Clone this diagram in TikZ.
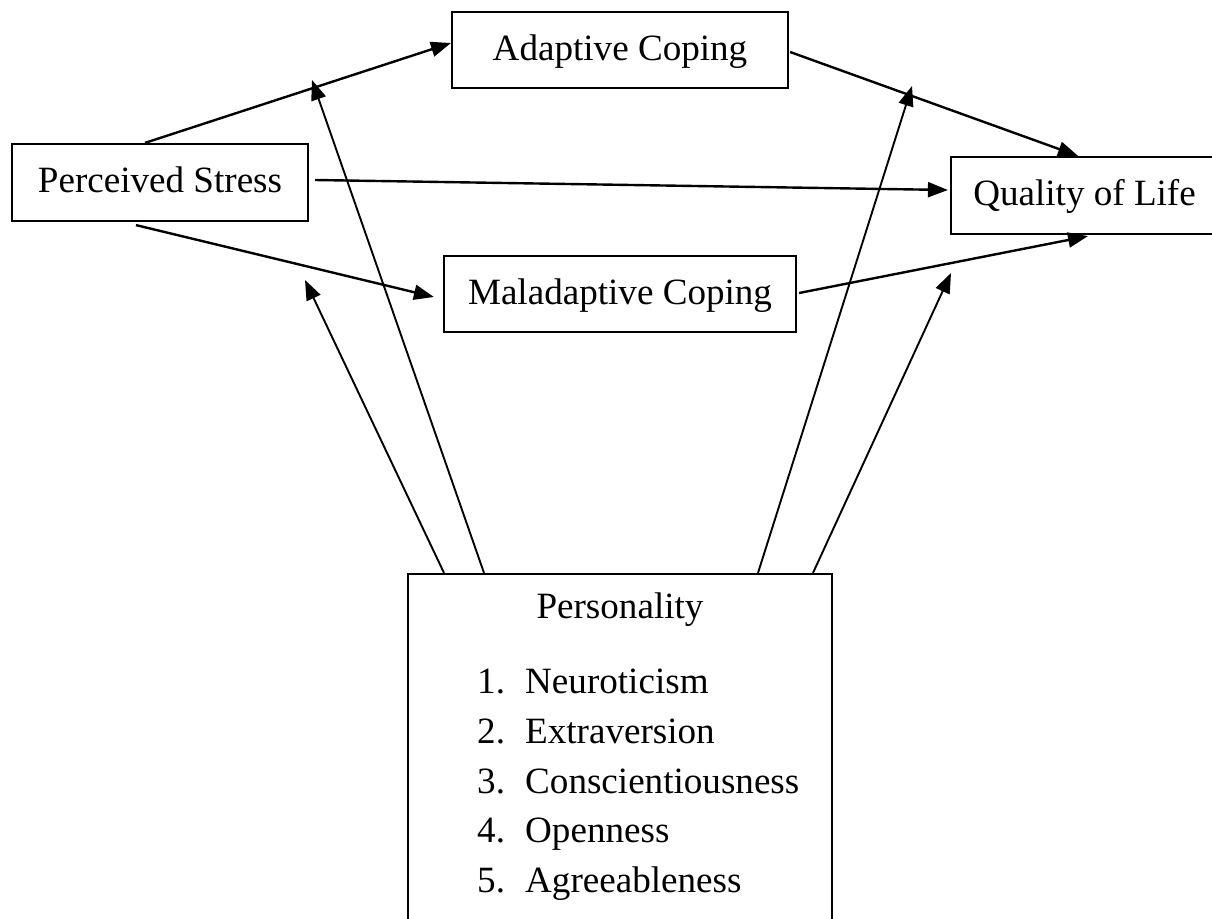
\documentclass[tikz,border=0pt]{standalone}
\usepackage{fontspec}
\setmainfont{Liberation Serif}
\usetikzlibrary{arrows.meta,calc}
\begin{document}
\begin{tikzpicture}[x=1pt,y=-1pt,
  txt/.style={inner sep=0pt,font=\fontsize{37.1pt}{44pt}\selectfont},
  box/.style={draw,line width=2.2pt,rectangle,inner sep=0pt,text height=30pt,text depth=10pt,font=\fontsize{37.1pt}{44pt}\selectfont},
  arr/.style={line width=2.4pt,-{Triangle[length=20pt,width=15pt]}},
  thinarr/.style={line width=1.9pt,-{Triangle[length=20pt,width=15pt]}}]
\useasboundingbox (0,0) rectangle (1212,918);
\clip (0,0) rectangle (1212,918);
\fill[white] (0,0) rectangle (1212,918);
% boxes
\node[box,minimum width=296pt,minimum height=77pt] (ps) at (160,182.5) {Perceived Stress};
\node[box,minimum width=336pt,minimum height=76pt] (ad) at (620,50) {Adaptive Coping};
\node[box,minimum width=352pt,minimum height=76pt] (mal) at (620,294) {Maladaptive Coping};
\node[box,minimum width=267pt,minimum height=77pt] (qol) at (1084.5,195.5) {Quality of Life};
\node[draw,line width=2.2pt,rectangle,inner sep=0pt,minimum width=424pt,minimum height=386pt] (pers) at (620,767) {};
% personality text
\node[txt,anchor=base] (ptitle) at (620,618) {Personality};
\foreach \n/\t/\y in {1/Neuroticism/693,2/Extraversion/743,3/Conscientiousness/793,4/Openness/842,5/Agreeableness/892}{
  \node[txt,anchor=base west] (num\n) at (477,\y) {\n.};
  \node[txt,anchor=base west] (item\n) at (525,\y) {\t};
}
% main connectors
\draw[arr] ([xshift=-15pt]ps.north) -- ([yshift=7pt]ad.west);
\draw[arr] ([xshift=6pt,yshift=2.5pt]ps.east) -- ([xshift=-2pt,yshift=5.5pt]qol.west);
\draw[arr] ([xshift=-24pt,yshift=-3pt]ps.south) -- ([xshift=-9pt,yshift=-3pt]mal.west);
\draw[arr] ([xshift=1pt,yshift=-2pt]ad.east) -- ([xshift=-6.5pt]qol.north);
\draw[arr] ([xshift=2pt,yshift=1pt]mal.east) -- ([xshift=3.5pt,yshift=-1pt]qol.south);
% moderator arrows
\coordinate (m1) at (312,80);
\coordinate (m2) at (305,280);
\coordinate (m3) at (912,86);
\coordinate (m4) at (951,273);
\draw[thinarr] ([xshift=-136pt]pers.north) -- (m1);
\draw[thinarr] ([xshift=-176pt]pers.north) -- (m2);
\draw[thinarr] ([xshift=138pt]pers.north) -- (m3);
\draw[thinarr] ([xshift=193pt]pers.north) -- (m4);
\end{tikzpicture}
\end{document}
